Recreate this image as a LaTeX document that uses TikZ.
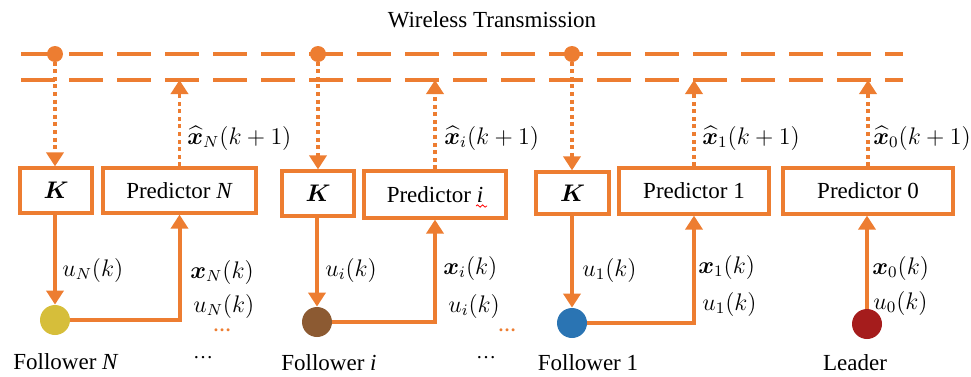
\documentclass[tikz,border=0pt]{standalone}
\usepackage{amsmath,bm}
\usepackage{fontspec}
\setmainfont{Liberation Serif}
\usetikzlibrary{arrows.meta,decorations.pathmorphing}
\definecolor{org}{HTML}{ED7D31}
\definecolor{cyel}{HTML}{D6BE3A}
\definecolor{cbrn}{HTML}{8C5A32}
\definecolor{cblu}{HTML}{2A74B3}
\definecolor{cred}{HTML}{A51C1C}
\tikzset{
  box/.style={draw=org,line width=1.6pt,inner sep=0pt},
  bus/.style={draw=org,line width=2pt,dash pattern=on 17pt off 7pt},
  dotarrow/.style={draw=org,line width=1.8pt,dash pattern=on 2pt off 1.8pt,-{Triangle[width=8.5pt,length=7pt]}},
  solarrow/.style={draw=org,line width=2pt,-{Triangle[width=8.5pt,length=7pt]}},
  link/.style={draw=org,line width=2pt},
  agent/.style={circle,minimum size=15pt,inner sep=0pt},
  busdot/.style={circle,fill=org,minimum size=8pt,inner sep=0pt},
  lbl/.style={anchor=west,inner sep=0pt},
  dots/.style={inner sep=0pt},
}
\begin{document}
\begin{tikzpicture}[x=0.5pt,y=-0.5pt,font=\fontsize{11.5}{14}\selectfont]
\useasboundingbox (0,0) rectangle (971,376);
% title
\node (title) at (492,20) {Wireless Transmission};
% bus lines
\coordinate (l1a) at (21,54); \coordinate (l1b) at (903,54);
\coordinate (l2a) at (21,80); \coordinate (l2b) at (903,80);
\draw[bus] (l1a) -- (l1b);
\draw[bus] (l2a) -- (l2b);
\node[busdot] (d1) at (55,54) {};
\node[busdot] (d2) at (318,54) {};
\node[busdot] (d3) at (572,54) {};
% boxes
\node[box,minimum width=36pt,minimum height=22.5pt] (K1) at (56,190.5) {$\boldsymbol{K}$};
\node[box,minimum width=76.5pt,minimum height=22.5pt] (PN) at (179.5,190.5) {Predictor \textit{N}};
\node[box,minimum width=36pt,minimum height=22.5pt] (K2) at (318,193.5) {$\boldsymbol{K}$};
\node[box,minimum width=71pt,minimum height=23.5pt] (Pi) at (435,194.5) {Predictor \textit{i}};
\node[box,minimum width=36.5pt,minimum height=21pt] (K3) at (572.5,193) {$\boldsymbol{K}$};
\node[box,minimum width=75pt,minimum height=23pt] (P1) at (694,191) {Predictor 1};
\node[box,minimum width=85pt,minimum height=23pt] (P0) at (868,191) {Predictor 0};
% spell-check squiggle
\coordinate (sq1) at (476,206); \coordinate (sq2) at (487,206);
\draw[red,line width=0.4pt,decorate,decoration={snake,amplitude=0.6pt,segment length=2.5pt}] (sq1) -- (sq2);
% agents
\node[agent,fill=cyel] (fN) at (55,320) {};
\node[agent,fill=cbrn] (fi) at (317,322) {};
\node[agent,fill=cblu] (f1) at (572,323) {};
\node[agent,fill=cred] (f0) at (867,324) {};
% dotted arrows down from bus
\draw[dotarrow] (d1.center) -- (d1.center |- K1.north);
\draw[dotarrow] (d2.center) -- (d2.center |- K2.north);
\draw[dotarrow] (d3.center) -- (d3.center |- K3.north);
% dotted arrows up to bus
\draw[dotarrow] (PN.north) -- (PN.north |- l2a);
\draw[dotarrow] (Pi.north) -- (Pi.north |- l2a);
\draw[dotarrow] (P1.north) -- (P1.north |- l2a);
\draw[dotarrow] (P0.north) -- (P0.north |- l2a);
% control arrows
\draw[solarrow] (fN.north |- K1.south) -- (fN.north);
\draw[solarrow] (fi.north |- K2.south) -- (fi.north);
\draw[solarrow] (f1.north |- K3.south) -- (f1.north);
% state arrows
\draw[solarrow] (fN.east) -| (PN.south);
\draw[solarrow] (fi.east) -| (Pi.south);
\draw[solarrow] (f1.east) -| (P1.south);
\draw[solarrow] (f0.north) -- (f0.north |- P0.south);
% hat labels
\node[lbl] (hN) at (187,138) {$\widehat{\boldsymbol{x}}_N(k+1)$};
\node[lbl] (hi) at (444,138) {$\widehat{\boldsymbol{x}}_i(k+1)$};
\node[lbl] (h1) at (702,138) {$\widehat{\boldsymbol{x}}_1(k+1)$};
\node[lbl] (h0) at (873,138) {$\widehat{\boldsymbol{x}}_0(k+1)$};
% u labels
\node[lbl] (uN) at (62,270) {$u_N(k)$};
\node[lbl] (ui) at (325,270) {$u_i(k)$};
\node[lbl] (u1) at (582,270) {$u_1(k)$};
% x,u labels
\node[lbl] (xN) at (190,272) {$\boldsymbol{x}_N(k)$};
\node[lbl] (uN2) at (193,306) {$u_N(k)$};
\node[lbl] (xi) at (443,268) {$\boldsymbol{x}_i(k)$};
\node[lbl] (ui2) at (448,306) {$u_i(k)$};
\node[lbl] (x1) at (698,267) {$\boldsymbol{x}_1(k)$};
\node[lbl] (u12) at (702,304) {$u_1(k)$};
\node[lbl] (x0) at (872,268) {$\boldsymbol{x}_0(k)$};
\node[lbl] (u0) at (873,303) {$u_0(k)$};
% orange dots
\node[dots,text=org] (odN) at (222,330) {\textbf{\fontsize{9}{10}\selectfont …}};
\node[dots,text=org] (odi) at (507,330) {\textbf{\fontsize{9}{10}\selectfont …}};
% names
\node (nN) at (66,362) {Follower \textit{N}};
\node (ni) at (329,363) {Follower \textit{i}};
\node (n1) at (588,363) {Follower 1};
\node (n0) at (855,363) {Leader};
\node[dots] (bdN) at (203,358) {\fontsize{10}{12}\selectfont …};
\node[dots] (bdi) at (486,358) {\fontsize{10}{12}\selectfont …};
\end{tikzpicture}
\end{document}
